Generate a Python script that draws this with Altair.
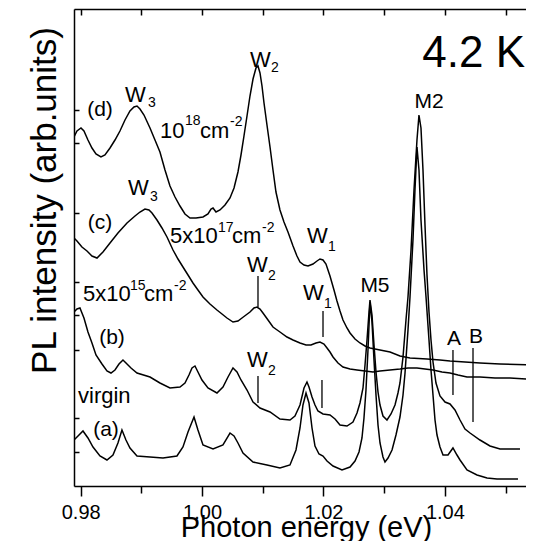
import altair as alt
import pandas as pd

FONT = "Liberation Sans"

# ---- spectra (photon energy in eV, PL intensity in arb. units incl. vertical offset) ----
A_E = [0.97890, 0.97956, 0.98038, 0.98120, 0.98203, 0.98318, 0.98433, 0.98532, 0.98614, 0.98680,
       0.98746, 0.98812, 0.98928, 0.99142, 0.99356, 0.99586, 0.99685, 0.99768, 0.99867, 0.99932,
       1.00015, 1.00180, 1.00344, 1.00460, 1.00526, 1.00591, 1.00674, 1.00839, 1.01069, 1.01283,
       1.01448, 1.01547, 1.01613, 1.01662, 1.01712, 1.01761, 1.01811, 1.01860, 1.01926, 1.01992,
       1.02058, 1.02157, 1.02305, 1.02437, 1.02519, 1.02585, 1.02634, 1.02667, 1.02700, 1.02733,
       1.02766, 1.02799, 1.02832, 1.02865, 1.02898, 1.02931, 1.02980, 1.03013, 1.03063, 1.03129,
       1.03194, 1.03260, 1.03310, 1.03343, 1.03392, 1.03425, 1.03474, 1.03507, 1.03540, 1.03573,
       1.03606, 1.03656, 1.03689, 1.03738, 1.03771, 1.03804, 1.03837, 1.03870, 1.03919, 1.03969,
       1.04051, 1.04133, 1.04199, 1.04249, 1.04364, 1.04529, 1.04694, 1.04858, 1.05023, 1.05204]
A_I = [46, 50, 55, 48, 39, 30, 26, 31, 43, 56,
       46, 38, 30, 29, 28, 30, 39, 54, 69, 56,
       41, 37, 41, 53, 50, 43, 33, 24, 21, 18,
       21, 36, 58, 81, 93, 83, 58, 40, 32, 30,
       25, 20, 16, 19, 25, 34, 48, 68, 96, 136,
       184, 164, 126, 91, 61, 43, 29, 24, 28, 36,
       51, 69, 91, 113, 156, 189, 246, 296, 339, 316,
       266, 216, 189, 146, 116, 91, 66, 51, 39, 31,
       31, 38, 31, 26, 16, 11, 8, 7, 7, 7]

B_E = [0.97890, 0.97939, 0.97988, 0.98054, 0.98120, 0.98186, 0.98252, 0.98351, 0.98433, 0.98499,
       0.98565, 0.98631, 0.98697, 0.98763, 0.98829, 0.98928, 0.99142, 0.99306, 0.99471, 0.99636,
       0.99718, 0.99784, 0.99834, 0.99883, 0.99932, 0.99998, 1.00097, 1.00245, 1.00344, 1.00427,
       1.00509, 1.00575, 1.00641, 1.00740, 1.00839, 1.00954, 1.01119, 1.01283, 1.01448, 1.01530,
       1.01613, 1.01679, 1.01728, 1.01761, 1.01811, 1.01860, 1.01909, 1.01992, 1.02107, 1.02190,
       1.02272, 1.02387, 1.02486, 1.02552, 1.02601, 1.02651, 1.02684, 1.02717, 1.02750, 1.02766,
       1.02799, 1.02832, 1.02865, 1.02898, 1.02931, 1.02980, 1.03046, 1.03112, 1.03178, 1.03227,
       1.03260, 1.03310, 1.03359, 1.03392, 1.03442, 1.03491, 1.03540, 1.03573, 1.03606, 1.03639,
       1.03672, 1.03705, 1.03738, 1.03771, 1.03804, 1.03853, 1.03919, 1.04002, 1.04084, 1.04166,
       1.04249, 1.04331, 1.04414, 1.04578, 1.04743, 1.04908, 1.05072, 1.05237]
B_I = [174, 177, 178, 168, 154, 143, 131, 122, 115, 113,
       116, 122, 126, 122, 118, 113, 109, 103, 98, 99,
       103, 111, 118, 120, 114, 106, 98, 93, 99, 109,
       118, 114, 106, 96, 84, 78, 74, 67, 66, 70,
       81, 98, 104, 99, 89, 81, 75, 72, 71, 67,
       61, 60, 64, 73, 83, 98, 121, 146, 174, 186,
       171, 141, 114, 94, 81, 70, 66, 72, 81, 93,
       103, 129, 166, 189, 236, 296, 346, 371, 358, 316,
       261, 211, 174, 146, 124, 103, 90, 84, 82, 76,
       66, 57, 53, 46, 40, 37, 37, 37]

C_E = [0.97890, 0.97939, 0.98021, 0.98104, 0.98186, 0.98269, 0.98367, 0.98483, 0.98614, 0.98763,
       0.98895, 0.98977, 0.99059, 0.99125, 0.99175, 0.99257, 0.99339, 0.99422, 0.99521, 0.99603,
       0.99685, 0.99768, 0.99850, 0.99932, 1.00015, 1.00130, 1.00245, 1.00328, 1.00410, 1.00509,
       1.00591, 1.00657, 1.00723, 1.00789, 1.00855, 1.00904, 1.00954, 1.01003, 1.01086, 1.01168,
       1.01283, 1.01399, 1.01498, 1.01613, 1.01712, 1.01794, 1.01876, 1.01942, 1.02008, 1.02058,
       1.02107, 1.02157, 1.02239, 1.02321, 1.02437, 1.02552, 1.02684, 1.02815, 1.02931, 1.03096,
       1.03260, 1.03392, 1.03540, 1.03672, 1.03804, 1.03952, 1.04084, 1.04216, 1.04364, 1.04578,
       1.04825, 1.05072, 1.05336, 1.05468]
C_I = [248, 245, 239, 235, 230, 228, 234, 243, 253, 263,
       270, 274, 277, 276, 273, 266, 258, 249, 236, 227,
       219, 211, 203, 196, 189, 182, 176, 172, 168, 164,
       165, 168, 171, 174, 178, 179, 177, 173, 166, 159,
       154, 149, 146, 143, 141, 141, 143, 144, 142, 138,
       134, 129, 123, 119, 117, 116, 115, 114, 115, 116,
       117, 118, 118, 117, 116, 114, 113, 111, 109, 109,
       108, 108, 107, 107]

D_E = [0.97890, 0.97939, 0.98005, 0.98054, 0.98120, 0.98186, 0.98252, 0.98334, 0.98400, 0.98483,
       0.98565, 0.98647, 0.98730, 0.98812, 0.98878, 0.98928, 0.98977, 0.99043, 0.99142, 0.99224,
       0.99306, 0.99389, 0.99471, 0.99554, 0.99636, 0.99718, 0.99801, 0.99900, 1.00015, 1.00097,
       1.00147, 1.00180, 1.00229, 1.00295, 1.00377, 1.00460, 1.00526, 1.00591, 1.00641, 1.00690,
       1.00740, 1.00789, 1.00839, 1.00888, 1.00921, 1.00954, 1.00987, 1.01020, 1.01069, 1.01119,
       1.01168, 1.01217, 1.01283, 1.01349, 1.01415, 1.01498, 1.01563, 1.01613, 1.01679, 1.01745,
       1.01827, 1.01893, 1.01942, 1.01992, 1.02041, 1.02107, 1.02173, 1.02222, 1.02272, 1.02321,
       1.02387, 1.02437, 1.02519, 1.02601, 1.02684, 1.02766, 1.02931, 1.03096, 1.03260, 1.03425,
       1.03705, 1.03919, 1.04084, 1.04331, 1.04578, 1.04908, 1.05468]
D_I = [349, 355, 358, 355, 346, 338, 332, 329, 331, 338,
       346, 355, 366, 375, 379, 380, 377, 371, 358, 346,
       334, 316, 300, 289, 280, 272, 268, 268, 269, 272,
       277, 278, 274, 276, 281, 288, 298, 314, 331, 350,
       370, 390, 407, 418, 420, 413, 400, 383, 361, 339,
       316, 294, 276, 264, 254, 240, 230, 224, 221, 220,
       222, 225, 227, 226, 222, 210, 196, 185, 175, 166,
       158, 153, 147, 143, 140, 138, 136, 134, 130, 128,
       127, 126, 125, 124, 123, 122, 121]

# ---- annotations ----
LEFT_LABELS = ["W", "3", "W", "2", "10", "18", "cm", "-2",
               "W", "3", "5x10", "17", "cm", "-2", "W", "2",
               "5x10", "15", "cm", "-2", "W", "1", "W", "1",
               "W", "2", "virgin"]
LEFT_E = [0.98730, 0.99109, 1.00789, 1.01135, 0.99306, 0.99718, 0.99965, 1.00460,
          0.98779, 0.99142, 0.99471, 1.00262, 1.00493, 1.00987, 1.00740, 1.01086,
          0.98038, 0.98812, 0.99043, 0.99537, 1.01728, 1.02074, 1.01662, 1.02008,
          1.00740, 1.01086, 0.97956]
LEFT_I = [384, 379, 419, 414, 348, 361, 348, 360,
          291, 285, 243, 254, 243, 254, 214, 206,
          185, 196, 185, 196, 243, 235, 186, 178,
          119, 111, 83]
LEFT_SIZE = [22, 14, 22, 14, 22, 14, 22, 14,
             22, 14, 22, 14, 22, 14, 22, 14,
             22, 14, 22, 14, 22, 14, 22, 14,
             22, 14, 22]

CENTER_LABELS = ["(d)", "(c)", "(b)", "(a)", "M5", "M2", "A", "B"]
CENTER_E = [0.98318, 0.98318, 0.98516, 0.98417, 1.02848, 1.03738, 1.04150, 1.04512]
CENTER_I = [370, 257, 142, 50, 194, 378, 141, 143]
CENTER_SIZE = [21, 21, 21, 21, 21, 21, 21, 21]

TEMP_LABEL = ["4.2 K"]
TEMP_E = [1.05320]
TEMP_I = [419]

RULE_E = [1.00921, 1.01992, 1.01975, 1.00921, 1.04133, 1.04463]
RULE_I1 = [210, 175, 106, 110, 136, 138]
RULE_I2 = [179, 149, 78, 83, 91, 64]

MAJOR_TICKS = [0.98, 1.00, 1.02, 1.04]
MINOR_TICKS = [0.99, 1.01, 1.03, 1.05]
ALL_TICKS = [0.98, 0.99, 1.00, 1.01, 1.02, 1.03, 1.04, 1.05]
Y_TICKS = [34, 68, 136, 171, 204, 273, 343, 376]

X_DOMAIN = [0.97890, 1.05336]
Y_DOMAIN = [0, 477]
W, H = 452, 477

# ---- tables ----
rows = []
for name, E, I in [("a", A_E, A_I), ("b", B_E, B_I), ("c", C_E, C_I), ("d", D_E, D_I)]:
    for k, (e, i) in enumerate(zip(E, I)):
        rows.append({"curve": name, "E": e, "I": i, "k": k})
spec_df = pd.DataFrame(rows)
left_df = pd.DataFrame({"E": LEFT_E, "I": LEFT_I, "t": LEFT_LABELS, "s": LEFT_SIZE})
center_df = pd.DataFrame({"E": CENTER_E, "I": CENTER_I, "t": CENTER_LABELS, "s": CENTER_SIZE})
temp_df = pd.DataFrame({"E": TEMP_E, "I": TEMP_I, "t": TEMP_LABEL})
rule_df = pd.DataFrame({"E": RULE_E, "I1": RULE_I1, "I2": RULE_I2})

xs = alt.Scale(domain=X_DOMAIN, nice=False, zero=False)
ys = alt.Scale(domain=Y_DOMAIN, nice=False, zero=False)

common_axis = dict(domainColor="black", tickColor="black", labelColor="black",
                   titleColor="black", grid=False, labelFont=FONT, titleFont=FONT,
                   domainWidth=1.5, tickWidth=1.5)

lines = alt.Chart(spec_df).mark_line(color="black", strokeWidth=1.5, clip=True).encode(
    x=alt.X("E:Q", scale=xs, axis=alt.Axis(
        orient="bottom", values=MAJOR_TICKS, format=".2f", tickSize=10, labelPadding=6,
        labelFontSize=20, labelFlush=False, labelOverlap=False,
        title="Photon energy (eV)", titleFontSize=29, titleFontWeight="normal",
        titleX=232, titleY=50, titleAlign="center", titleBaseline="alphabetic",
        **common_axis)),
    y=alt.Y("I:Q", scale=ys, axis=alt.Axis(
        orient="left", labels=False, ticks=False, domain=True,
        title="PL intensity (arb.units)", titleFontSize=35, titleFontWeight="normal",
        titleAngle=270, titleX=-19, titleY=191, titleAlign="center",
        titleBaseline="alphabetic", **common_axis)),
    detail="curve:N",
    order="k:Q",
)

rules = alt.Chart(rule_df).mark_rule(color="black", strokeWidth=1.3).encode(
    x=alt.X("E:Q", scale=xs, axis=alt.Axis(
        orient="bottom", values=MINOR_TICKS, tickSize=7, labels=False, domain=False,
        title=None, **common_axis)),
    y=alt.Y("I1:Q", scale=ys, axis=alt.Axis(
        orient="right", offset=-W, values=Y_TICKS, tickSize=5, labels=False,
        domain=False, title=None, **common_axis)),
    y2="I2:Q",
)

left_text = alt.Chart(left_df).mark_text(
    align="left", baseline="alphabetic", font=FONT, color="black").encode(
    x=alt.X("E:Q", scale=xs, axis=alt.Axis(
        orient="bottom", offset=-H, values=ALL_TICKS, tickSize=6, labels=False,
        domain=True, title=None, **common_axis)),
    y=alt.Y("I:Q", scale=ys, axis=None),
    text="t:N",
    size=alt.Size("s:Q", scale=None, legend=None),
)

center_text = alt.Chart(center_df).mark_text(
    align="center", baseline="alphabetic", font=FONT, color="black").encode(
    x=alt.X("E:Q", scale=xs, axis=None),
    y=alt.Y("I:Q", scale=ys, axis=None),
    text="t:N",
    size=alt.Size("s:Q", scale=None, legend=None),
)

temp_text = alt.Chart(temp_df).mark_text(
    align="right", baseline="alphabetic", font=FONT, color="black", fontSize=44).encode(
    x=alt.X("E:Q", scale=xs, axis=None),
    y=alt.Y("I:Q", scale=ys, axis=None),
    text="t:N",
)

chart = alt.layer(lines, rules, left_text, center_text, temp_text).resolve_axis(
    x="independent", y="independent"
).properties(
    width=W, height=H,
    padding={"left": 66, "top": 1, "right": 0, "bottom": 55},
    autosize=alt.AutoSizeParams(type="none"),
).configure_view(stroke=None).configure(background="white")

chart.save("out.html", embed_options={"renderer": "svg", "actions": False})
